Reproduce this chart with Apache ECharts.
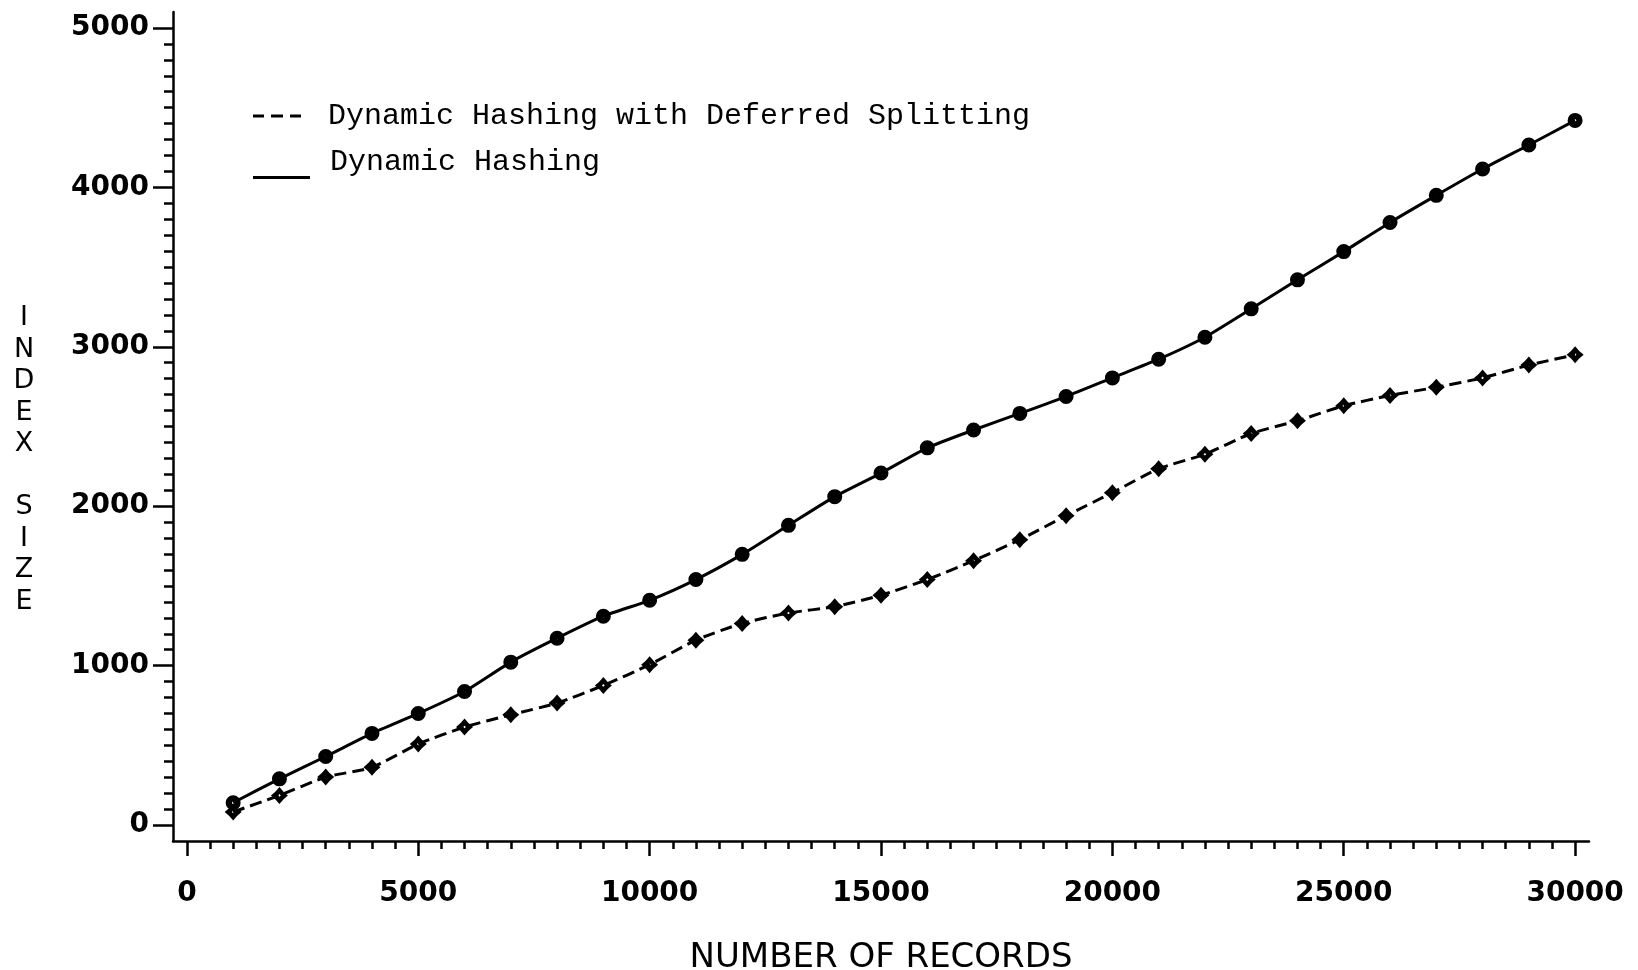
<!DOCTYPE html>
<html>
<head>
<meta charset="utf-8">
<title>Index size vs number of records</title>
<script src="https://cdn.jsdelivr.net/npm/echarts@6/dist/echarts.min.js"></script>
<style>
  html, body { margin: 0; padding: 0; background: #fff; }
  #chart { width: 1638px; height: 970px; }
</style>
</head>
<body>
<div id="chart"></div>
<script>
// Number of records at each measurement
const records = [1000, 2000, 3000, 4000, 5000, 6000, 7000, 8000, 9000, 10000,
  11000, 12000, 13000, 14000, 15000, 16000, 17000, 18000, 19000, 20000,
  21000, 22000, 23000, 24000, 25000, 26000, 27000, 28000, 29000, 30000];

// Index size, plain dynamic hashing
const dynamicHashing = [140, 290, 430, 575, 700, 838, 1022, 1172, 1310, 1410,
  1540, 1698, 1880, 2060, 2208, 2366, 2478, 2582, 2688, 2805,
  2922, 3060, 3238, 3420, 3597, 3780, 3950, 4115, 4266, 4420];

// Index size, dynamic hashing with deferred splitting
const deferredSplitting = [82, 186, 301, 362, 508, 615, 692, 765, 876, 1006,
  1160, 1265, 1330, 1370, 1442, 1540, 1658, 1790, 1940, 2085,
  2235, 2326, 2456, 2536, 2630, 2695, 2746, 2805, 2885, 2950];

// Labelled tick values
const xTickLabels = [0, 5000, 10000, 15000, 20000, 25000, 30000];
const yTickLabels = [0, 1000, 2000, 3000, 4000, 5000];

const seriesNames = ['Dynamic Hashing with Deferred Splitting', 'Dynamic Hashing'];

// Minor tick positions: every 500 records, every 100 index units
const xMinor = [];
for (let v = xTickLabels[0]; v <= xTickLabels[xTickLabels.length - 1]; v += 500) xMinor.push(v);
const yMinor = [];
for (let v = yTickLabels[0]; v <= yTickLabels[yTickLabels.length - 1]; v += 100) yMinor.push(v);

const X_MIN = -300, X_MAX = 30300, Y_MIN = -100, Y_MAX = 5100;
const INK = '#000';
const plotterFont = 'DejaVu Sans';
const plain = (v) => String(v);

const circleMark = 'path://M7,0A7,7,0,1,1,-7,0A7,7,0,1,1,7,0ZM1.1,0A1.1,1.1,0,1,0,-1.1,0A1.1,1.1,0,1,0,1.1,0Z';
const starMark = 'path://M0,-7Q3,-3,7,0Q3,3,0,7Q-3,3,-7,0Q-3,-3,0,-7ZM0,-1.1L-1.1,0L0,1.1L1.1,0Z';

const pairs = (ys) => records.map((x, i) => [x, ys[i]]);

const chart = echarts.init(document.getElementById('chart'), null, { renderer: 'canvas' });

chart.setOption({
  animation: false,
  backgroundColor: '#fff',
  grid: { left: 173, right: 49, top: 12, bottom: 129, containLabel: false, outerBoundsMode: 'none' },
  xAxis: [
    {
      type: 'value', min: X_MIN, max: X_MAX, position: 'bottom',
      name: 'NUMBER OF RECORDS', nameLocation: 'middle', nameGap: 100,
      nameTextStyle: { fontFamily: plotterFont, fontSize: 34, color: INK },
      axisLine: { show: true, onZero: false, lineStyle: { color: INK, width: 2.5 } },
      axisTick: { show: true, customValues: xTickLabels, length: 15, lineStyle: { color: INK, width: 2.5 } },
      axisLabel: { show: true, customValues: xTickLabels, margin: 39, formatter: plain,
        fontFamily: plotterFont, fontWeight: 'bold', fontSize: 28, color: INK },
      splitLine: { show: false }
    },
    {
      type: 'value', min: X_MIN, max: X_MAX, position: 'bottom',
      axisLine: { show: false, onZero: false },
      axisTick: { show: true, customValues: xMinor, length: 8, lineStyle: { color: INK, width: 2.5 } },
      axisLabel: { show: false },
      splitLine: { show: false }
    }
  ],
  yAxis: [
    {
      type: 'value', min: Y_MIN, max: Y_MAX, position: 'left',
      axisLine: { show: true, onZero: false, lineStyle: { color: INK, width: 2.5 } },
      axisTick: { show: true, customValues: yTickLabels, length: 20, lineStyle: { color: INK, width: 2.5 } },
      axisLabel: { show: true, customValues: yTickLabels, margin: 24, formatter: plain,
        fontFamily: plotterFont, fontWeight: 'bold', fontSize: 28, color: INK },
      splitLine: { show: false }
    },
    {
      type: 'value', min: Y_MIN, max: Y_MAX, position: 'left',
      axisLine: { show: false, onZero: false },
      axisTick: { show: true, customValues: yMinor, length: 9, lineStyle: { color: INK, width: 2.5 } },
      axisLabel: { show: false },
      splitLine: { show: false }
    }
  ],
  legend: [
    {
      left: 253, top: 101, padding: 0, selectedMode: false,
      itemWidth: 48, itemHeight: 3,
      data: [{ name: seriesNames[0], icon: 'path://M0,0h11v3h-11zM18,0h12v3h-12zM37,0h11v3h-11z' }],
      textStyle: { fontFamily: 'Liberation Mono', fontSize: 30, lineHeight: 30, color: INK, padding: [0, 0, 0, 22] }
    },
    {
      // the solid sample sits on the text baseline, below the label's middle
      left: 253, top: 145, padding: 0, selectedMode: false,
      itemWidth: 57, itemHeight: 34,
      data: [{ name: seriesNames[1], icon: 'path://M0,0h0.3v0.01h-0.3zM0,31h57v3h-57z' }],
      textStyle: { fontFamily: 'Liberation Mono', fontSize: 30, lineHeight: 30, color: INK, padding: [0, 0, 0, 15] }
    }
  ],
  graphic: [
    {
      type: 'text', x: 24, y: 460, silent: true,
      style: {
        text: 'I\nN\nD\nE\nX\n\nS\nI\nZ\nE',
        font: '27px "DejaVu Sans"', fill: INK,
        textAlign: 'center', textVerticalAlign: 'middle', lineHeight: 31.5
      }
    }
  ],
  series: [
    {
      name: seriesNames[0], type: 'line', xAxisIndex: 0, yAxisIndex: 0,
      data: pairs(deferredSplitting),
      smooth: 0.2,
      symbol: starMark, symbolSize: 17, showSymbol: true,
      itemStyle: { color: INK },
      lineStyle: { color: INK, width: 3, type: [12, 6] },
      emphasis: { disabled: true }, silent: true
    },
    {
      name: seriesNames[1], type: 'line', xAxisIndex: 0, yAxisIndex: 0,
      data: pairs(dynamicHashing),
      smooth: 0.2,
      symbol: circleMark, symbolSize: 15, showSymbol: true,
      itemStyle: { color: INK },
      lineStyle: { color: INK, width: 3, type: 'solid' },
      emphasis: { disabled: true }, silent: true
    }
  ]
});
</script>
</body>
</html>
